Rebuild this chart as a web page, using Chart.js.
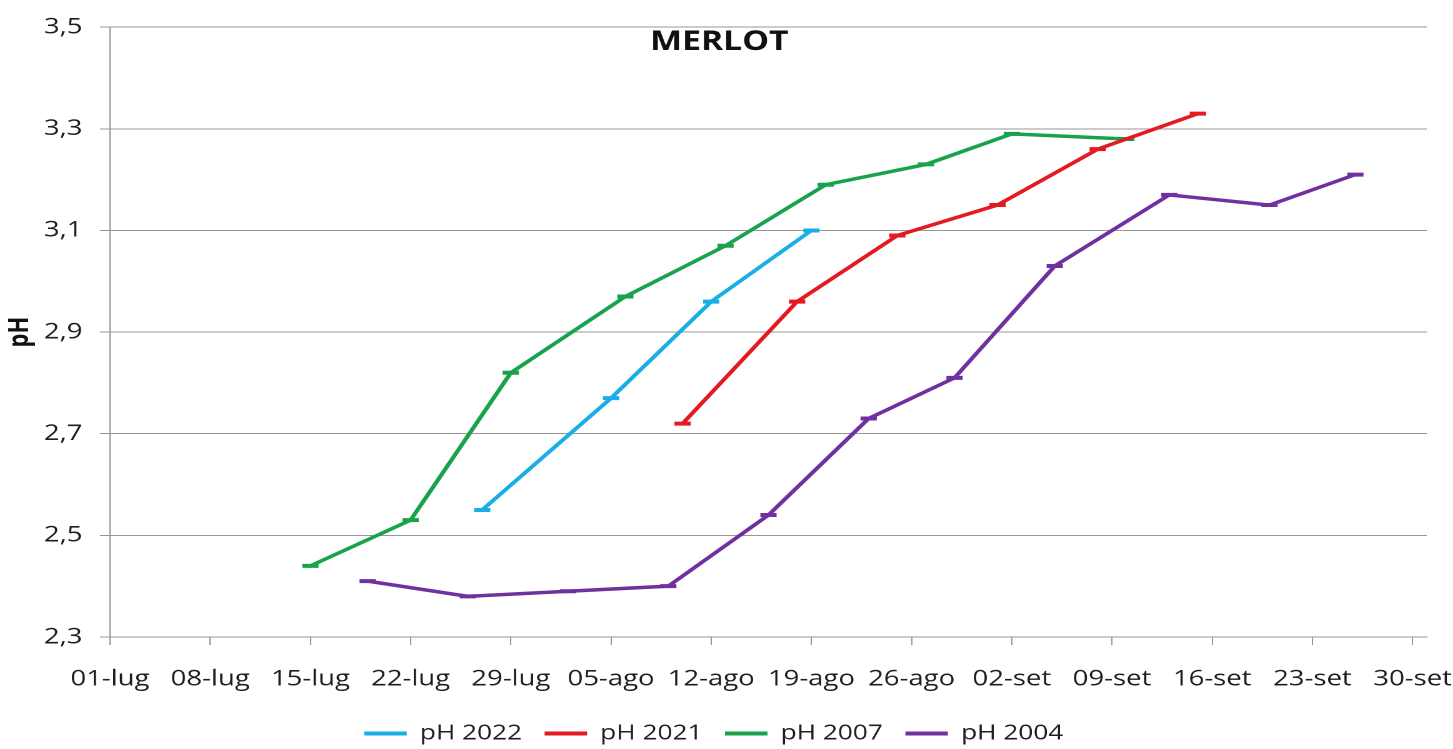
<!DOCTYPE html>
<html>
<head>
<meta charset="utf-8">
<script src="https://cdn.jsdelivr.net/npm/chart.js@4"></script>
<style>
html, body { margin:0; padding:0; background:#fff; overflow:hidden; width:1453px; height:749px; }
#wrap { transform: scaleX(1.25); transform-origin: 0 0; width:1183px; height:754px; }
</style>
</head>
<body>
<div id="wrap"><canvas id="c" width="1183" height="754"></canvas></div>
<script>
// ---- data ----
const chartTitle = 'MERLOT';
const yAxisTitle = 'pH';
const xTickLabels = ['01-lug','08-lug','15-lug','22-lug','29-lug','05-ago','12-ago','19-ago','26-ago','02-set','09-set','16-set','23-set','30-set'];
const xAxisEnd = '01-ott';
const yTicks = [2.3, 2.5, 2.7, 2.9, 3.1, 3.3, 3.5];
const seriesNames = ['pH 2022', 'pH 2021', 'pH 2007', 'pH 2004'];

const dates2022 = ['27-lug','05-ago','12-ago','19-ago'];
const ph2022    = [2.55, 2.77, 2.96, 3.10];

const dates2021 = ['10-ago','18-ago','25-ago','01-set','08-set','15-set'];
const ph2021    = [2.72, 2.96, 3.09, 3.15, 3.26, 3.33];

const dates2007 = ['15-lug','22-lug','29-lug','06-ago','13-ago','20-ago','27-ago','02-set','10-set'];
const ph2007    = [2.44, 2.53, 2.82, 2.97, 3.07, 3.19, 3.23, 3.29, 3.28];

const dates2004 = ['19-lug','26-lug','02-ago','09-ago','16-ago','23-ago','29-ago','05-set','13-set','20-set','26-set'];
const ph2004    = [2.41, 2.38, 2.39, 2.40, 2.54, 2.73, 2.81, 3.03, 3.17, 3.15, 3.21];

// ---- styles ----
const seriesColors = ['#1aaee6', '#e31b20', '#18a24c', '#7030a0'];
const FONT = 'Open Sans';
const TEXT = '#1e1e1e';
const GRID = '#969696';

const monthOffset = { lug: 0, ago: 31, set: 62, ott: 92 };
function dayIndex(s) {
  const [d, m] = s.split('-');
  return monthOffset[m] + parseInt(d, 10) - 1;
}
const labelByDay = {};
xTickLabels.forEach(l => { labelByDay[dayIndex(l)] = l; });

function series(dates, vals) {
  return dates.map((d, i) => ({ x: dayIndex(d), y: vals[i] }));
}
const allDates = [dates2022, dates2021, dates2007, dates2004];
const allVals = [ph2022, ph2021, ph2007, ph2004];

const datasets = seriesNames.map((name, i) => ({
  label: name,
  data: series(allDates[i], allVals[i]),
  borderColor: seriesColors[i],
  backgroundColor: seriesColors[i],
  borderWidth: 3.5,
  tension: 0,
  fill: false,
  pointStyle: 'line',
  pointRadius: 6.5,
  pointBorderWidth: 4,
  pointBorderColor: seriesColors[i],
  pointBackgroundColor: seriesColors[i]
}));

const titlePlugin = {
  id: 'insideTitle',
  afterDatasetsDraw(chart) {
    const { ctx, chartArea } = chart;
    ctx.save();
    ctx.font = 'bold 27px "' + FONT + '"';
    ctx.fillStyle = '#111';
    ctx.textAlign = 'center';
    ctx.textBaseline = 'middle';
    ctx.fillText(chartTitle, chart.width / 2 - 16, chartArea.top + 15);
    ctx.restore();
  }
};

new Chart(document.getElementById('c'), {
  type: 'line',
  data: { datasets },
  plugins: [titlePlugin],
  options: {
    responsive: false,
    animation: false,
    devicePixelRatio: 2,
    layout: { padding: { top: 24, right: 41, bottom: 0, left: 0 } },
    plugins: {
      legend: {
        position: 'bottom',
        labels: {
          usePointStyle: true,
          pointStyle: 'line',
          pointStyleWidth: 34,
          color: TEXT,
          font: { family: FONT, size: 21 },
          padding: 18
        }
      },
      tooltip: { enabled: false },
      title: { display: false }
    },
    scales: {
      x: {
        type: 'linear',
        min: dayIndex(xTickLabels[0]),
        max: dayIndex(xAxisEnd),
        afterBuildTicks: s => { s.ticks = xTickLabels.map(l => ({ value: dayIndex(l) })); },
        afterFit: s => { s.height = 68; },
        ticks: {
          autoSkip: false, maxRotation: 0, padding: 21,
          color: TEXT, font: { family: FONT, size: 22 },
          callback: v => labelByDay[v]
        },
        grid: { drawOnChartArea: false, drawTicks: true, tickLength: 8, color: GRID, lineWidth: 1 },
        border: { display: true, color: GRID, width: 1 }
      },
      y: {
        min: yTicks[0],
        max: yTicks[yTicks.length - 1],
        afterBuildTicks: s => { s.ticks = yTicks.map(v => ({ value: v })); },
        afterFit: s => { s.width = 88; },
        ticks: {
          padding: 14, color: TEXT, font: { family: FONT, size: 22 },
          callback: v => v.toFixed(1).replace('.', ',')
        },
        grid: { color: GRID, lineWidth: 1, tickLength: 8, drawTicks: true },
        border: { display: true, color: GRID, width: 1 },
        title: {
          display: true, text: yAxisTitle, color: '#111',
          font: { family: FONT, size: 22, weight: 'bold' },
          padding: { top: 3, bottom: 0 }
        }
      }
    }
  }
});
</script>
</body>
</html>
